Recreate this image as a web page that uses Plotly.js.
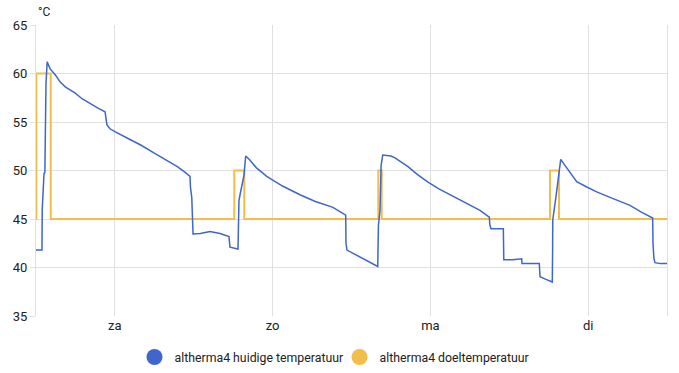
<!DOCTYPE html>
<html>
<head>
<meta charset="utf-8">
<script src="https://cdn.plot.ly/plotly-3.0.1.min.js"></script>
<style>
html,body{margin:0;padding:0;background:#fff;}
#chart{width:679px;height:373px;}
</style>
</head>
<body>
<div id="chart"></div>
<script>
// hours since Friday 12:00
var dayTickHours = [12, 36, 60, 84];
var dayTickLabels = ['za', 'zo', 'ma', 'di'];

var currentName = 'altherma4 huidige temperatuur';
var currentHours = [0, 0.91, 0.95, 1.22, 1.35, 1.52, 1.7, 2.13, 3.0, 3.65, 4.5, 5.93, 7.0, 8.5, 9.5, 10.5, 10.65, 10.8, 11.26, 12.0, 14.0, 16.0, 18.0, 20.0, 21.5, 22.5, 23.43, 23.5, 23.58, 23.7, 23.89, 25.0, 26.47, 28.0, 29.36, 29.45, 29.51, 30.73, 30.8, 30.88, 31.04, 31.4, 31.64, 31.9, 32.5, 33.5, 35.1, 37.5, 40.16, 42.5, 45.18, 47.12, 47.16, 47.31, 49.5, 51.99, 52.05, 52.1, 52.33, 52.5, 52.75, 54.0, 54.62, 56.6, 58.0, 59.64, 61.3, 62.99, 65.3, 67.55, 68.96, 69.05, 69.22, 71.1, 71.17, 72.5, 73.89, 73.94, 76.57, 76.68, 77.5, 78.55, 78.6, 78.62, 79.11, 79.5, 79.83, 80.5, 82.26, 83.8, 85.3, 87.8, 90.37, 92.1, 93.82, 93.87, 94.0, 94.17, 95.0, 96.0];
var currentTemp  = [41.8, 41.8, 46.0, 49.7, 49.8, 59.0, 61.2, 60.5, 59.8, 59.15, 58.6, 58.0, 57.4, 56.75, 56.4, 56.06, 55.0, 54.7, 54.3, 54.0, 53.3, 52.6, 51.8, 51.0, 50.4, 49.9, 49.4, 48.3, 47.4, 47.2, 43.45, 43.5, 43.7, 43.5, 43.2, 42.6, 42.1, 41.9, 44.0, 46.9, 47.5, 48.7, 49.5, 51.5, 51.1, 50.3, 49.4, 48.4, 47.5, 46.8, 46.2, 45.4, 42.5, 41.8, 41.0, 40.1, 42.5, 44.4, 45.8, 50.5, 51.6, 51.5, 51.3, 50.4, 49.6, 48.8, 48.1, 47.5, 46.7, 45.9, 45.2, 44.4, 44.0, 44.0, 40.8, 40.8, 40.9, 40.4, 40.4, 39.05, 38.8, 38.5, 42.0, 44.9, 47.3, 49.5, 51.15, 50.5, 48.85, 48.3, 47.8, 47.1, 46.4, 45.7, 45.1, 42.5, 41.0, 40.5, 40.4, 40.4];

var targetName = 'altherma4 doeltemperatuur';
var targetHours = [0, 0.05, 2.24, 30.17, 31.69, 52.08, 52.59, 78.2, 79.57, 96];
var targetTemp  = [45, 60, 45, 50, 45, 50, 45, 50, 45, 45];

var blue = '#3f66cc';
var yellow = '#f2bd4b';

var traces = [
  {x: targetHours, y: targetTemp, type: 'scatter', mode: 'lines', line: {color: yellow, width: 2, shape: 'hv'}, showlegend: false, hoverinfo: 'skip'},
  {x: currentHours, y: currentTemp, type: 'scatter', mode: 'lines', line: {color: blue, width: 1.5}, showlegend: false, hoverinfo: 'skip'},
  {x: [null], y: [null], type: 'scatter', mode: 'markers', name: currentName, marker: {color: blue, size: 16, symbol: 'circle'}},
  {x: [null], y: [null], type: 'scatter', mode: 'markers', name: targetName, marker: {color: yellow, size: 16, symbol: 'circle'}}
];

var layout = {
  width: 679, height: 373,
  margin: {l: 36, r: 12, t: 25, b: 57, autoexpand: false},
  paper_bgcolor: '#ffffff', plot_bgcolor: '#ffffff',
  font: {family: 'Roboto, sans-serif', size: 13, color: '#212121'},
  xaxis: {
    range: [0, 96], tickvals: dayTickHours, ticktext: dayTickLabels,
    showgrid: true, gridcolor: '#e0e0e0', gridwidth: 1, zeroline: false,
    showline: false, ticks: '', tickfont: {size: 13, color: '#212121'}
  },
  yaxis: {
    range: [35, 65], dtick: 5, tick0: 35,
    showgrid: true, gridcolor: '#e0e0e0', gridwidth: 1, zeroline: false,
    showline: true, linecolor: '#e0e0e0', linewidth: 1, mirror: true,
    ticks: 'outside', ticklen: 5, tickcolor: '#e0e0e0',
    tickfont: {size: 13, color: '#212121'}
  },
  legend: {orientation: 'h', xref: 'container', x: 0.5, xanchor: 'center', y: -0.141, yanchor: 'middle', font: {size: 12.3, color: '#212121'}, itemsizing: 'trace', itemwidth: 30, entrywidth: 160, entrywidthmode: 'pixels'},
  annotations: [{text: '°C', xref: 'paper', yref: 'paper', x: 0, y: 1, xanchor: 'left', yanchor: 'bottom', yshift: 4, showarrow: false, font: {size: 12, color: '#212121'}}]
};

Plotly.newPlot('chart', traces, layout, {displayModeBar: false, staticPlot: true});
</script>
</body>
</html>
